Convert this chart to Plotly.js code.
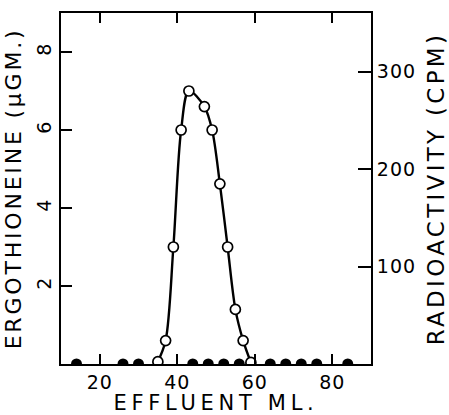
<!DOCTYPE html>
<html>
<head>
<meta charset="utf-8">
<script src="https://cdn.plot.ly/plotly-3.0.1.min.js"></script>
<style>
html,body{margin:0;padding:0;background:#fff;}
#chart{width:449px;height:415px;}
.xtitle{letter-spacing:4.7px;}
.ytitle{letter-spacing:2.8px;}
.y2title{letter-spacing:3.3px;}
.xtick text,.ytick text,.y2tick text{letter-spacing:1px;}
</style>
</head>
<body>
<div id="chart"></div>
<script>
// Ergothioneine (µg) — open circles, left axis
const ergoX = [35, 37, 39, 41, 43, 47, 49, 51, 53, 55, 57, 59];
const ergoY = [0.06, 0.6, 3.0, 6.0, 7.0, 6.6, 6.0, 4.62, 3.0, 1.4, 0.6, 0.04];
// Radioactivity (CPM) — filled circles, right axis
const radX = [14, 26, 30, 44, 48, 52, 56, 64, 68, 72, 76, 84];
const radY = [0, 0, 0, 0, 0, 0, 0, 0, 0, 0, 0, 0];
// Tick values
const xTicks = [20, 40, 60, 80];
const yTicks = [2, 4, 6, 8];
const y2Ticks = [100, 200, 300];

const fontFam = '"DejaVu Sans", "Liberation Sans", sans-serif';

const traces = [
  {
    x: radX, y: radY, yaxis: 'y2', type: 'scatter', mode: 'markers',
    marker: {symbol: 'circle', size: 11, color: '#000'},
    cliponaxis: true, hoverinfo: 'skip', showlegend: false
  },
  {
    x: ergoX, y: ergoY, type: 'scatter', mode: 'lines+markers',
    line: {shape: 'spline', smoothing: 0.9, color: '#000', width: 2.4},
    marker: {symbol: 'circle', size: 10, color: '#fff', line: {color: '#000', width: 1.7}},
    cliponaxis: true, hoverinfo: 'skip', showlegend: false
  }
];

const layout = {
  width: 449, height: 415,
  margin: {l: 61, r: 78, t: 13, b: 51},
  paper_bgcolor: '#fff', plot_bgcolor: '#fff',
  font: {family: fontFam, color: '#000'},
  showlegend: false,
  xaxis: {
    range: [10, 90], tickvals: xTicks, ticktext: xTicks.map(String),
    ticks: 'inside', ticklen: 10, tickwidth: 2, tickcolor: '#000',
    showline: true, linewidth: 2, linecolor: '#000', mirror: 'ticks',
    showgrid: false, zeroline: false,
    tickfont: {size: 19, family: fontFam},
    title: {text: 'EFFLUENT ML.', font: {size: 21, family: fontFam}, standoff: 5}
  },
  yaxis: {
    range: [0, 9], tickvals: yTicks, ticktext: yTicks.map(String),
    tickangle: -90,
    ticks: 'inside', ticklen: 11, tickwidth: 2, tickcolor: '#000',
    showline: true, linewidth: 2, linecolor: '#000',
    showgrid: false, zeroline: false,
    tickfont: {size: 19, family: fontFam},
    title: {text: 'ERGOTHIONEINE (µGM.)', font: {size: 22, family: fontFam}, standoff: 6}
  },
  yaxis2: {
    range: [0, 360], overlaying: 'y', side: 'right',
    tickvals: y2Ticks, ticktext: y2Ticks.map(String),
    ticks: 'inside', ticklen: 13, tickwidth: 2, tickcolor: '#000',
    showline: true, linewidth: 2, linecolor: '#000',
    showgrid: false, zeroline: false,
    tickfont: {size: 19, family: fontFam},
    title: {text: 'RADIOACTIVITY (CPM)', font: {size: 23, family: fontFam}, standoff: 14}
  }
};

Plotly.newPlot('chart', traces, layout, {staticPlot: true, displayModeBar: false});
</script>
</body>
</html>
